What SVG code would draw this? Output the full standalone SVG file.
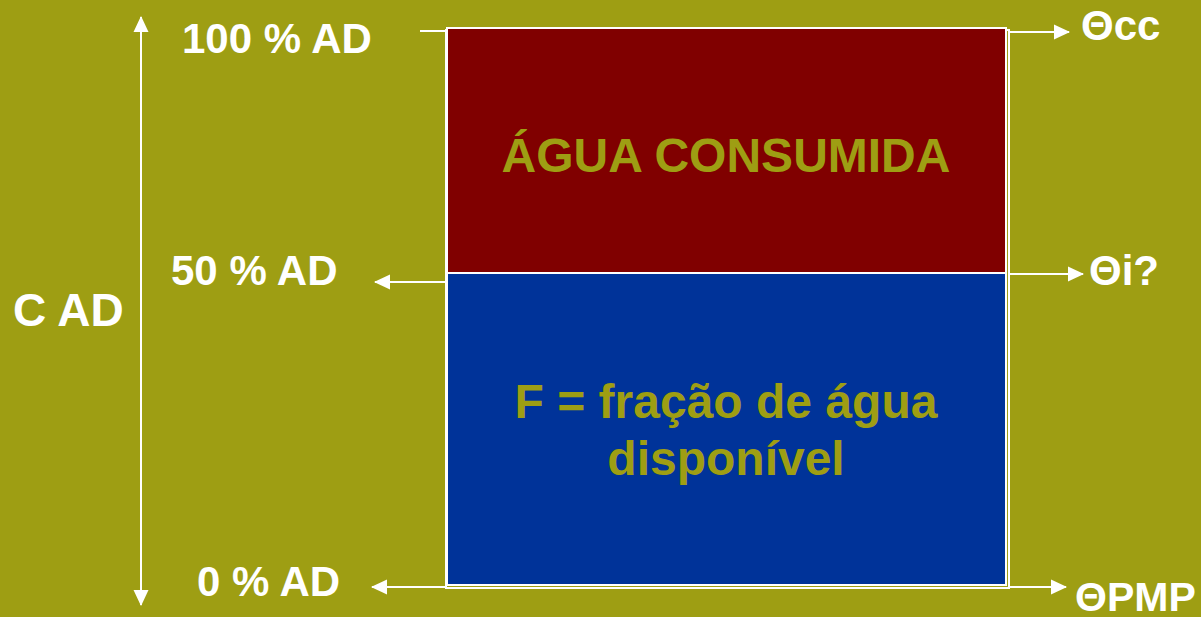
<svg xmlns="http://www.w3.org/2000/svg" width="1201" height="617" viewBox="0 0 1201 617">
<style>
.lbl{font-family:"Liberation Sans",Arial,sans-serif;font-weight:bold;fill:#ffffff;font-size:42px}
.in{font-family:"Liberation Sans",Arial,sans-serif;font-weight:bold;fill:#9e9e13;font-size:48px;text-anchor:middle}
.ln{stroke:#ffffff;stroke-width:2;fill:none}
</style>
<defs>
<marker id="ah" viewBox="0 0 16 16" refX="15" refY="8" markerWidth="16" markerHeight="16" markerUnits="userSpaceOnUse" orient="auto-start-reverse">
<path d="M0,0.5 L16,8 L0,15.5 Z" fill="#ffffff"/>
</marker>
</defs>
<rect x="0" y="0" width="1201" height="617" fill="#9e9e13"/>
<g id="box">
<rect x="446" y="30" width="563" height="558" fill="none" stroke="#ffffff" stroke-width="2"/>
<g id="agua-consumida">
<rect x="447" y="28" width="559" height="245" fill="#800000" stroke="#ffffff" stroke-width="2"/>
<text class="in" x="726" y="172">ÁGUA CONSUMIDA</text>
</g>
<g id="fracao">
<rect x="447" y="273" width="559" height="312" fill="#003399" stroke="#ffffff" stroke-width="2"/>
<text class="in" x="726" y="418">F = fração de água</text>
<text class="in" x="726" y="475">disponível</text>
</g>
</g>
<g id="labels">
<text class="lbl" x="182" y="53">100 % AD</text>
<text class="lbl" x="171" y="285">50 % AD</text>
<text class="lbl" x="197" y="596">0 % AD</text>
<text class="lbl" x="13" y="326" style="font-size:46px">C AD</text>
<text class="lbl" x="1081" y="40">Θcc</text>
<text class="lbl" x="1089" y="285">Θi?</text>
<text class="lbl" x="1075" y="611" style="font-size:41px">ΘPMP</text>
</g>
<g id="connectors">
<line class="ln" x1="141" y1="17" x2="141" y2="605" marker-start="url(#ah)" marker-end="url(#ah)"/>
<line class="ln" x1="420" y1="31" x2="446" y2="31"/>
<line class="ln" x1="1009" y1="32" x2="1069" y2="32" marker-end="url(#ah)"/>
<line class="ln" x1="446" y1="282" x2="375" y2="282" marker-end="url(#ah)"/>
<line class="ln" x1="1009" y1="274" x2="1083" y2="274" marker-end="url(#ah)"/>
<line class="ln" x1="446" y1="587" x2="372" y2="587" marker-end="url(#ah)"/>
<line class="ln" x1="1009" y1="587" x2="1066" y2="587" marker-end="url(#ah)"/>
</g>
</svg>
